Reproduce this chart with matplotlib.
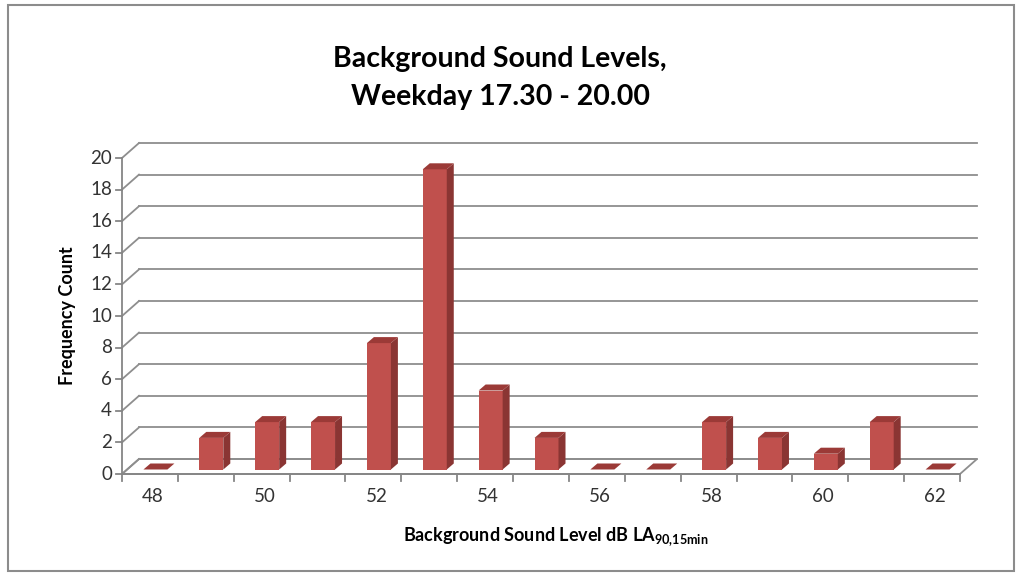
import matplotlib
matplotlib.use("Agg")
import matplotlib.pyplot as plt
from matplotlib.patches import Polygon, Rectangle
from matplotlib.lines import Line2D

categories = [48, 49, 50, 51, 52, 53, 54, 55, 56, 57, 58, 59, 60, 61, 62]
counts = [0, 2, 3, 3, 8, 19, 5, 2, 0, 0, 3, 2, 1, 3, 0]
tick_labels = ["48", "", "50", "", "52", "", "54", "", "56", "", "58", "", "60", "", "62"]
y_ticks = list(range(0, 21, 2))

title = "Background Sound Levels,\nWeekday 17.30 - 20.00"
xlabel = "Background Sound Level dB LA$_{\\mathbf{90{,}15min}}$"
ylabel = "Frequency Count"

plt.rcParams['font.family'] = ['Lato', 'DejaVu Sans']
plt.rcParams['mathtext.fontset'] = 'custom'
plt.rcParams['mathtext.bf'] = 'Lato:bold'
plt.rcParams['mathtext.rm'] = 'Lato'

W, H = 1021, 574
fig = plt.figure(figsize=(W / 100, H / 100), dpi=100)
fig.patch.set_facecolor('white')

# front plot area in pixels
L, R, B, T = 122, 960, 474, 158
ax = fig.add_axes([L / W, (H - B) / H, (R - L) / W, (B - T) / H])
n = len(categories)
ax.set_xlim(0, n)
ax.set_ylim(0, 20)
ax.axis('off')

px_x = (R - L) / n
px_y = (B - T) / 20.0
DX = 17 / px_x          # depth offset in data units
DY = 15 / px_y
grid_c = '#8E8E8E'
axis_c = '#868686'

# floor
floor = Polygon([(0, 0), (n, 0), (n + DX, DY), (DX, DY)], closed=True,
                facecolor='white', edgecolor=grid_c, lw=1.3, clip_on=False, zorder=1)
ax.add_patch(floor)

# gridlines (back wall + side wall)
for y in y_ticks:
    ax.add_line(Line2D([DX, n + DX], [y + DY, y + DY], color=grid_c, lw=1.3,
                       clip_on=False, zorder=1))
    ax.add_line(Line2D([0, DX], [y, y + DY], color=grid_c, lw=1.3,
                       clip_on=False, zorder=1))

# bars
bw = 24 / px_x
bdx = 7 / px_x
bdy = 6 / px_y
off_x = 5.5 / px_x
off_y = 4.5 / px_y
front_c = '#C0504D'
side_c = '#8A3533'
top_c = '#9B3A37'
for i, v in enumerate(counts):
    x0 = i + 0.5 - bw / 2 + off_x
    y0 = off_y
    if v > 0:
        ax.add_patch(Rectangle((x0, y0), bw, v, facecolor=front_c, edgecolor='none',
                               clip_on=False, zorder=3))
        ax.add_patch(Polygon([(x0 + bw, y0), (x0 + bw + bdx, y0 + bdy),
                              (x0 + bw + bdx, y0 + bdy + v), (x0 + bw, y0 + v)],
                             closed=True, facecolor=side_c, edgecolor='none',
                             clip_on=False, zorder=3))
    ax.add_patch(Polygon([(x0, y0 + v), (x0 + bw, y0 + v),
                          (x0 + bw + bdx, y0 + v + bdy), (x0 + bdx, y0 + v + bdy)],
                         closed=True, facecolor=top_c, edgecolor='none',
                         clip_on=False, zorder=3))

# axes lines
ax.add_line(Line2D([0, 0], [0, 20], color=axis_c, lw=1.3, clip_on=False, zorder=4))
ax.add_line(Line2D([0, n], [0, 0], color=axis_c, lw=1.3, clip_on=False, zorder=4))
tick_len_x = 6 / px_x
tick_len_y = 7 / px_y
for y in y_ticks:
    ax.add_line(Line2D([-tick_len_x, 0], [y, y], color=axis_c, lw=1.3,
                       clip_on=False, zorder=4))
    ax.text(-10 / px_x, y, str(y), ha='right', va='center', fontsize=13.5,
            color='#333333')
for k in range(n + 1):
    ax.add_line(Line2D([k, k], [0, -tick_len_y], color=axis_c, lw=1.3,
                       clip_on=False, zorder=4))
for i, lab in enumerate(tick_labels):
    if lab:
        ax.text(i + 0.5 + 3 / px_x, -22 / px_y, lab, ha='center', va='center',
                fontsize=13.5, color='#333333')

# titles and labels
fig.text(500 / W, 1 - 78 / H, title, ha='center', va='center', fontsize=20.5,
         fontweight='bold', color='black', linespacing=1.6)
fig.text(556 / W, 1 - 537 / H, xlabel, ha='center', va='center', fontsize=13,
         fontweight='bold', color='black')
fig.text(67 / W, 1 - 316 / H, ylabel, ha='center', va='center', rotation=90,
         fontsize=13, fontweight='bold', color='black')

# chart border
fig.add_artist(Rectangle((8 / W, 3 / H), 1006 / W, 566 / H, transform=fig.transFigure,
                         facecolor='none', edgecolor='#8C8C8C', lw=1.5))

fig.savefig('out.png', dpi=100, facecolor='white')
